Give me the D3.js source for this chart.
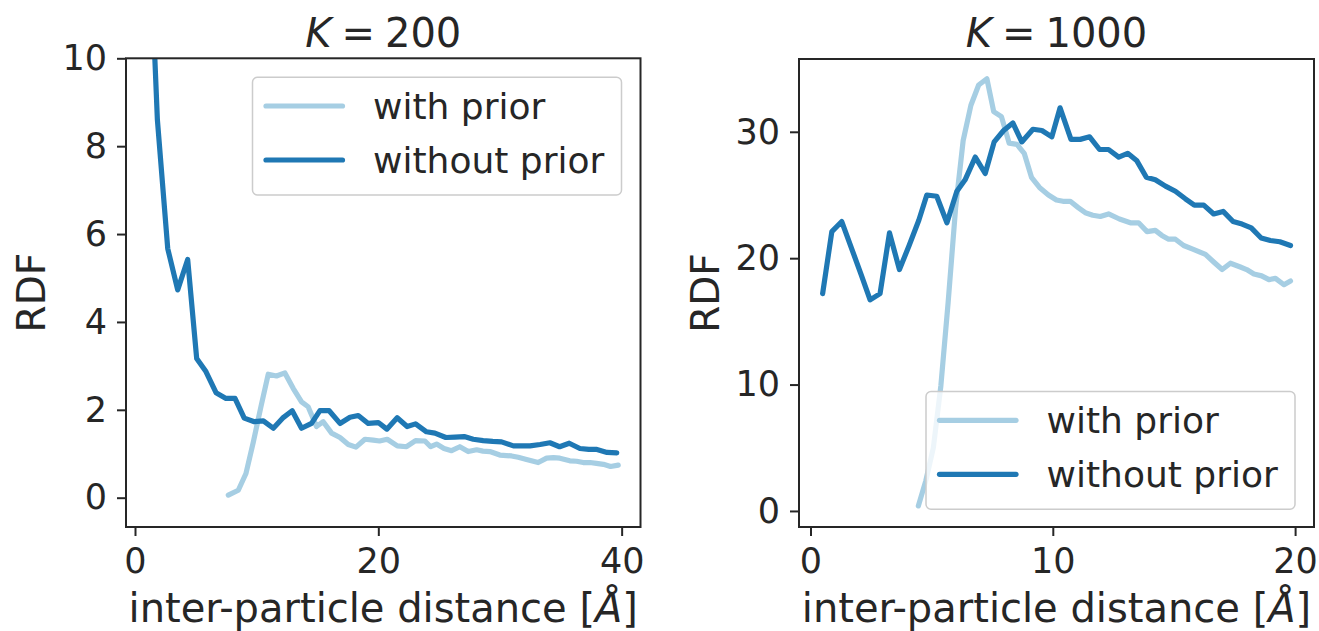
<!DOCTYPE html>
<html>
<head>
<meta charset="utf-8">
<script src="https://cdnjs.cloudflare.com/ajax/libs/d3/7.8.5/d3.min.js"></script>
<title>RDF with / without prior</title>
<style>
  body { margin: 0; background: #fff; }
  svg text { font-family: "DejaVu Sans", sans-serif; fill: #262626; }
</style>
</head>
<body>
<script>
// ---- data ----
const seriesNames = ["with prior", "without prior"];
const seriesColors = ["#a6cee3", "#1f78b4"];

// K = 200
const k200WithX = [7.67, 8.49, 9.12, 9.72, 10.35, 10.95, 11.63, 12.32, 13.0, 13.69, 14.23, 14.92, 15.47, 16.16, 16.85, 17.53, 18.16, 18.9, 19.58, 20.1,
  20.73, 21.56, 22.32, 23.06, 23.83, 24.3, 24.79, 25.4, 26.02, 26.7, 27.39, 28.08, 28.6, 29.17, 29.99, 30.95, 31.5, 32.18, 33.14, 33.83,
  34.4, 34.92, 35.74, 36.3, 36.84, 37.4, 37.93, 38.5, 39.09, 39.72];
const k200WithY = [0.06, 0.17, 0.55, 1.26, 2.07, 2.81, 2.77, 2.84, 2.49, 2.18, 2.07, 1.62, 1.73, 1.47, 1.37, 1.21, 1.15, 1.33, 1.31, 1.29,
  1.33, 1.18, 1.16, 1.30, 1.29, 1.16, 1.22, 1.12, 1.07, 1.16, 1.05, 1.09, 1.06, 1.05, 0.97, 0.95, 0.92, 0.87, 0.80, 0.90,
  0.91, 0.90, 0.84, 0.83, 0.80, 0.80, 0.78, 0.76, 0.71, 0.74];
const k200WithoutX = [1.18, 1.84, 2.69, 3.51, 4.33, 5.07, 5.83, 6.66, 7.48, 8.22, 8.98, 9.81, 10.55, 11.37, 12.13, 12.92, 13.69, 14.51, 15.2, 15.96,
  16.85, 17.67, 18.35, 19.17, 20.0, 20.7, 21.55, 22.37, 23.06, 23.96, 24.65, 25.55, 26.3, 27.06, 27.8, 28.62, 29.4, 30.13, 31.1, 31.8,
  32.47, 33.3, 34.1, 34.9, 35.69, 36.57, 37.3, 37.9, 38.8, 39.6];
const k200WithoutY = [13, 8.6, 5.67, 4.73, 5.42, 3.17, 2.87, 2.39, 2.26, 2.26, 1.81, 1.73, 1.75, 1.58, 1.81, 1.98, 1.58, 1.69, 1.98, 1.98,
  1.69, 1.83, 1.87, 1.69, 1.71, 1.56, 1.82, 1.62, 1.68, 1.50, 1.47, 1.37, 1.38, 1.39, 1.33, 1.30, 1.28, 1.27, 1.18, 1.18,
  1.18, 1.21, 1.25, 1.16, 1.24, 1.12, 1.10, 1.10, 1.03, 1.02];
const k200XTicks = [0, 20, 40];
const k200YTicks = [0, 2, 4, 6, 8, 10];

// K = 1000
const k1000WithX = [4.45, 4.76, 5.07, 5.38, 5.68, 5.99, 6.30, 6.62, 6.94, 7.28, 7.56, 7.88, 8.20, 8.52, 8.82, 9.12, 9.45, 9.82, 10.15, 10.42,
  10.72, 11.05, 11.34, 11.65, 11.96, 12.3, 12.75, 13.2, 13.54, 13.89, 14.23, 14.5, 14.78, 15.06, 15.4, 15.8, 16.3, 16.64, 16.99, 17.33,
  17.74, 18.0, 18.3, 18.62, 18.92, 19.19, 19.54, 19.81];
const k1000WithY = [0.4, 2.4, 5.0, 9.9, 16.5, 24.0, 29.3, 32.1, 33.7, 34.2, 31.6, 31.2, 29.1, 29.0, 28.3, 26.4, 25.6, 25.0, 24.6, 24.5,
  24.5, 24.0, 23.6, 23.4, 23.3, 23.5, 23.1, 22.8, 22.8, 22.1, 22.2, 21.8, 21.5, 21.5, 21.0, 20.7, 20.3, 19.7, 19.1, 19.6,
  19.3, 19.1, 18.75, 18.6, 18.3, 18.4, 17.9, 18.2];
const k1000WithoutX = [0.50, 0.88, 1.29, 1.69, 2.09, 2.46, 2.87, 3.26, 3.67, 4.07, 4.47, 4.80, 5.21, 5.63, 6.04, 6.38, 6.80, 7.21, 7.58, 7.97,
  8.35, 8.72, 9.18, 9.55, 9.96, 10.30, 10.75, 11.13, 11.52, 11.93, 12.30, 12.72, 13.09, 13.47, 13.86, 14.23, 14.65, 15.06, 15.47, 15.84,
  16.23, 16.64, 17.03, 17.44, 17.81, 18.19, 18.60, 18.98, 19.37, 19.81];
const k1000WithoutY = [17.2, 22.1, 22.9, 20.8, 18.7, 16.7, 17.2, 22.0, 19.1, 21.0, 23.0, 25.0, 24.9, 22.8, 25.3, 26.2, 28.0, 26.7, 29.2, 30.1,
  30.7, 29.2, 30.2, 30.1, 29.6, 31.9, 29.4, 29.4, 29.6, 28.6, 28.6, 28.0, 28.3, 27.7, 26.4, 26.2, 25.7, 25.3, 24.7, 24.2,
  24.2, 23.5, 23.7, 22.9, 22.7, 22.4, 21.6, 21.4, 21.3, 21.0];
const k1000XTicks = [0, 10, 20];
const k1000YTicks = [0, 10, 20, 30];

// ---- drawing ----
const svg = d3.select("body").append("svg")
    .attr("width", 1319)
    .attr("height", 631);

const ink = "#262626";

function drawPanel(p) {
  const x = d3.scaleLinear().domain(p.xDomain).range([p.left, p.right]);
  const y = d3.scaleLinear().domain(p.yDomain).range([p.bottom, p.top]);
  const g = svg.append("g");

  svg.append("clipPath").attr("id", "clip-" + p.id)
    .append("rect")
    .attr("x", p.left).attr("y", p.top)
    .attr("width", p.right - p.left).attr("height", p.bottom - p.top);

  const line = d3.line().x(d => x(d[0])).y(d => y(d[1]));
  p.series.forEach((s, i) => {
    g.append("path")
      .datum(d3.zip(s[0], s[1]))
      .attr("clip-path", "url(#clip-" + p.id + ")")
      .attr("fill", "none")
      .attr("stroke", seriesColors[i])
      .attr("stroke-width", 5.2)
      .attr("stroke-linejoin", "round")
      .attr("stroke-linecap", "round")
      .attr("d", line);
  });

  // axes (ticks + labels), spines drawn as a rect
  const xAxis = d3.axisBottom(x).tickValues(p.xTicks).tickSize(9).tickPadding(12).tickFormat(d3.format("d"));
  const yAxis = d3.axisLeft(y).tickValues(p.yTicks).tickSize(9).tickPadding(10).tickFormat(d3.format("d"));
  const gx = g.append("g").attr("transform", "translate(0," + p.bottom + ")").call(xAxis);
  const gy = g.append("g").attr("transform", "translate(" + p.left + ",0)").call(yAxis);
  [gx, gy].forEach(a => {
    a.select(".domain").remove();
    a.selectAll(".tick line").attr("stroke", ink).attr("stroke-width", 2);
    a.selectAll(".tick text").attr("fill", ink).style("font-size", "35px")
      .style("font-family", "DejaVu Sans, sans-serif");
  });

  g.append("rect")
    .attr("x", p.left).attr("y", p.top)
    .attr("width", p.right - p.left).attr("height", p.bottom - p.top)
    .attr("fill", "none").attr("stroke", ink).attr("stroke-width", 2);

  // title
  const cx = (p.left + p.right) / 2;
  const t = g.append("text").attr("x", cx).attr("y", 46.7)
    .attr("text-anchor", "middle").style("font-size", "40px");
  t.append("tspan").style("font-style", "italic").text("K");
  t.append("tspan").text("\u2005=\u2005" + p.k);

  // x label
  const xl = g.append("text").attr("x", cx).attr("y", 622)
    .attr("text-anchor", "middle").style("font-size", "40px");
  xl.append("tspan").text("inter-particle distance [");
  xl.append("tspan").style("font-style", "italic").text("Å");
  xl.append("tspan").text("]");

  // y label
  g.append("text")
    .attr("transform", "translate(" + p.yLabelX + "," + ((p.top + p.bottom) / 2) + ") rotate(-90)")
    .attr("text-anchor", "middle").style("font-size", "39px")
    .text("RDF");

  // legend
  const lw = 369, lh = 117.7;
  const lx = p.right - 19 - lw;
  const ly = p.legendPos === "upper" ? p.top + 19 : p.bottom - 17.7 - lh;
  const lg = g.append("g");
  lg.append("rect")
    .attr("x", lx).attr("y", ly).attr("width", lw).attr("height", lh)
    .attr("rx", 5)
    .attr("fill", "#fff").attr("fill-opacity", 0.8)
    .attr("stroke", "#cccccc").attr("stroke-width", 1.5);
  seriesNames.forEach((name, i) => {
    const ry = ly + 28.7 + i * 54;
    lg.append("line")
      .attr("x1", lx + 13.5).attr("x2", lx + 90)
      .attr("y1", ry).attr("y2", ry)
      .attr("stroke", seriesColors[i]).attr("stroke-width", 5.2)
      .attr("stroke-linecap", "round");
    lg.append("text")
      .attr("x", lx + 120.5).attr("y", ry).attr("dy", "0.36em")
      .style("font-size", "36px")
      .text(name);
  });
}

drawPanel({
  id: "k200", k: 200,
  left: 126, right: 640.5, top: 58.3, bottom: 527,
  xDomain: [-0.74, 41.55], yDomain: [-0.667, 10],
  xTicks: k200XTicks, yTicks: k200YTicks,
  series: [[k200WithX, k200WithY], [k200WithoutX, k200WithoutY]],
  yLabelX: 45, legendPos: "upper"
});

drawPanel({
  id: "k1000", k: 1000,
  left: 799, right: 1314, top: 59, bottom: 527,
  xDomain: [-0.475, 20.78], yDomain: [-1.27, 35.76],
  xTicks: k1000XTicks, yTicks: k1000YTicks,
  series: [[k1000WithX, k1000WithY], [k1000WithoutX, k1000WithoutY]],
  yLabelX: 719, legendPos: "lower"
});
</script>
</body>
</html>
